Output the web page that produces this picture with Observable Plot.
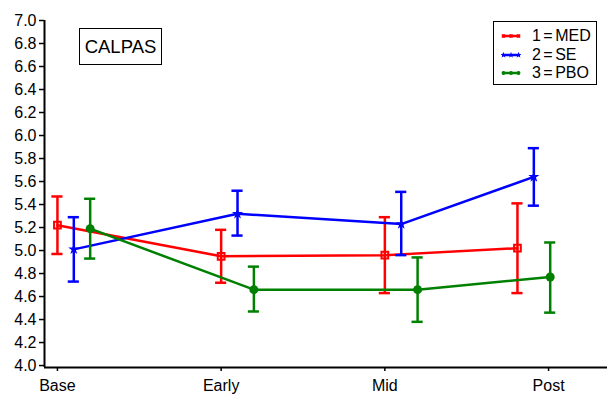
<!DOCTYPE html>
<html>
<head>
<meta charset="utf-8">
<script src="https://cdn.jsdelivr.net/npm/d3@7"></script>
<script src="https://cdn.jsdelivr.net/npm/@observablehq/plot@0.6"></script>
<style>
  body { margin: 0; background: #fff; }
  #wrap { position: relative; width: 607px; height: 397px; font-family: "Liberation Sans", Arial, Helvetica, sans-serif; }
  #title { position: absolute; left: 79px; top: 28px; width: 81px; height: 35px; border: 1px solid #000; background: #fff;
           font-size: 18.5px; line-height: 35px; text-align: center; color: #000; }
  #legend { position: absolute; left: 493px; top: 21px; width: 102px; height: 62px; border: 1px solid #000; background: #fff; }
  .item { position: absolute; left: 7px; height: 18px; display: flex; align-items: center; font-size: 16px; color: #000; white-space: pre; word-spacing: -2px; }
  .item svg { margin-right: 11px; }
</style>
</head>
<body>
<div id="wrap">
  <div id="chart"></div>
  <div id="title">CALPAS</div>
  <div id="legend"></div>
</div>
<script>
// Categories (time points)
const times = ["Base", "Early", "Mid", "Post"];
const tickPos = [0, 1, 2, 3];
const yTicks = [4.0, 4.2, 4.4, 4.6, 4.8, 5.0, 5.2, 5.4, 5.6, 5.8, 6.0, 6.2, 6.4, 6.6, 6.8, 7.0];

// Series names
const seriesNames = ["1 = MED", "2 = SE", "3 = PBO"];
const seriesColors = ["#ff0000", "#0000ff", "#008000"];

// Plotted x positions (dodged per series)
const medX = [0, 1, 2, 2.81];
const seX  = [0.1, 1.1, 2.1, 2.91];
const pboX = [0.2, 1.2, 2.2, 3.01];

// Means and error bar limits
const medMean = [5.22, 4.95, 4.96, 5.02];
const medLo   = [4.97, 4.72, 4.63, 4.63];
const medHi   = [5.47, 5.18, 5.29, 5.41];

const seMean = [5.01, 5.32, 5.23, 5.64];
const seLo   = [4.73, 5.13, 4.96, 5.39];
const seHi   = [5.29, 5.52, 5.51, 5.89];

const pboMean = [5.19, 4.66, 4.66, 4.77];
const pboLo   = [4.93, 4.47, 4.38, 4.46];
const pboHi   = [5.45, 4.86, 4.94, 5.07];

const seriesData = [
  {name: seriesNames[0], x: medX, m: medMean, lo: medLo, hi: medHi, symbol: "square", filled: false},
  {name: seriesNames[1], x: seX,  m: seMean,  lo: seLo,  hi: seHi,  symbol: "star",   filled: true},
  {name: seriesNames[2], x: pboX, m: pboMean, lo: pboLo, hi: pboHi, symbol: "circle", filled: true}
];

const xDomain = [-0.079, 3.36];
const yDomain = [3.983, 7.0];
const capHalf = 0.034;

const marks = [];
seriesData.forEach((s, k) => {
  const color = seriesColors[k];
  const rows = times.map((t, i) => ({t, x: s.x[i], m: s.m[i], lo: s.lo[i], hi: s.hi[i]}));
  marks.push(Plot.ruleX(rows, {x: "x", y1: "lo", y2: "hi", stroke: color, strokeWidth: 2.5}));
  marks.push(Plot.ruleY(rows, {y: "hi", x1: d => d.x - capHalf, x2: d => d.x + capHalf, stroke: color, strokeWidth: 2.5}));
  marks.push(Plot.ruleY(rows, {y: "lo", x1: d => d.x - capHalf, x2: d => d.x + capHalf, stroke: color, strokeWidth: 2.5}));
  marks.push(Plot.line(rows, {x: "x", y: "m", stroke: color, strokeWidth: 2.5}));
  if (s.filled) {
    marks.push(Plot.dot(rows, {x: "x", y: "m", symbol: s.symbol, fill: color, r: s.symbol === "circle" ? 4.5 : 3.5}));
  } else {
    marks.push(Plot.dot(rows, {x: "x", y: "m", symbol: s.symbol, stroke: color, fill: "none", strokeWidth: 2, r: 3.8}));
  }
});

const chart = Plot.plot({
  width: 607,
  height: 397,
  marginLeft: 44,
  marginRight: 0,
  marginTop: 20,
  marginBottom: 30,
  style: {fontFamily: '"Liberation Sans", Arial, Helvetica, sans-serif', fontSize: "16px", color: "#000", background: "#fff"},
  x: {type: "linear", domain: xDomain},
  y: {domain: yDomain},
  marks: [
    Plot.axisY({ticks: yTicks, tickFormat: d => d.toFixed(1), tickSize: 5, tickPadding: 3, fontSize: 16, strokeWidth: 1.5, label: null}),
    Plot.axisX({ticks: tickPos, tickFormat: i => times[i], tickSize: 4, tickPadding: 8, fontSize: 16, strokeWidth: 1.5, label: null}),
    Plot.ruleX([xDomain[0]], {stroke: "#000", strokeWidth: 2}),
    Plot.ruleY([yDomain[0]], {stroke: "#000", strokeWidth: 2}),
    ...marks
  ]
});
document.getElementById("chart").appendChild(chart);

// Legend
const legend = document.getElementById("legend");
const symbolPaths = {
  square: d3.symbol(d3.symbolSquare, 12)(),
  star: d3.symbol(d3.symbolStar, 12)(),
  circle: d3.symbol(d3.symbolCircle, 12)()
};
seriesData.forEach((s, k) => {
  const color = seriesColors[k];
  const item = document.createElement("div");
  item.className = "item";
  item.style.top = (5 + k * 18.5) + "px";
  const ns = "http://www.w3.org/2000/svg";
  const svg = document.createElementNS(ns, "svg");
  svg.setAttribute("width", 20);
  svg.setAttribute("height", 8);
  const line = document.createElementNS(ns, "line");
  line.setAttribute("x1", 1); line.setAttribute("x2", 19);
  line.setAttribute("y1", 4); line.setAttribute("y2", 4);
  line.setAttribute("stroke", color); line.setAttribute("stroke-width", 2.5);
  svg.appendChild(line);
  [2.5, 10, 17.5].forEach(cx => {
    const p = document.createElementNS(ns, "path");
    p.setAttribute("d", symbolPaths[s.symbol]);
    p.setAttribute("transform", `translate(${cx},4)`);
    p.setAttribute("fill", color);
    svg.appendChild(p);
  });
  item.appendChild(svg);
  const span = document.createElement("span");
  span.textContent = s.name;
  item.appendChild(span);
  legend.appendChild(item);
});
</script>
</body>
</html>
